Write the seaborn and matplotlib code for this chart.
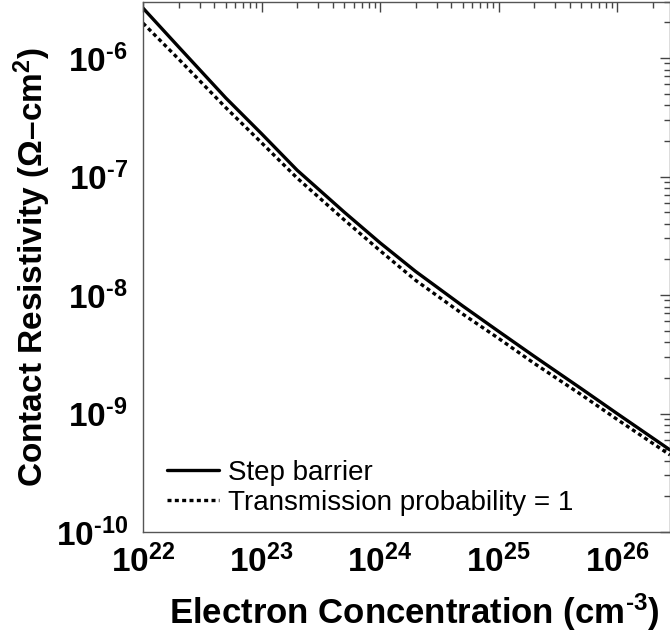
import numpy as np
import pandas as pd
import matplotlib
matplotlib.use("Agg")
import matplotlib.pyplot as plt
from matplotlib.ticker import LogLocator, FuncFormatter, NullFormatter
import seaborn as sns

# Electron concentration (cm^-3)
concentration = [1e22, 2e22, 5e22, 1e23, 2e23, 5e23, 1e24, 2e24, 5e24,
                 1e25, 2e25, 5e25, 1e26, 2.8e26]
# Contact resistivity (Ohm-cm^2)
rho_step = [2.64e-6, 1.24e-6, 4.6e-7, 2.3e-7, 1.13e-7, 5.0e-8, 2.76e-8,
            1.58e-8, 8.07e-9, 4.94e-9, 3.04e-9, 1.62e-9, 1.0e-9, 4.93e-10]
rho_unity = [1.97e-6, 9.8e-7, 3.81e-7, 1.93e-7, 9.7e-8, 4.3e-8, 2.37e-8,
             1.33e-8, 6.9e-9, 4.31e-9, 2.65e-9, 1.44e-9, 8.93e-10, 4.47e-10]
series_names = ["Step barrier", "Transmission probability = 1"]

df = pd.concat([
    pd.DataFrame({"n": concentration, "rho": rho_step, "model": series_names[0]}),
    pd.DataFrame({"n": concentration, "rho": rho_unity, "model": series_names[1]}),
])

sns.set_theme(style="white")
plt.rcParams["font.family"] = ["Liberation Sans", "DejaVu Sans"]
plt.rcParams["mathtext.fontset"] = "custom"
plt.rcParams["mathtext.rm"] = "Liberation Sans"
plt.rcParams["mathtext.bf"] = "Liberation Sans:bold"
plt.rcParams["mathtext.default"] = "bf"
for key in ("text.color", "axes.labelcolor", "xtick.color", "ytick.color",
            "xtick.labelcolor", "ytick.labelcolor"):
    plt.rcParams[key] = "black"

HY = "\u2010"  # short hyphen for exponents

fig = plt.figure(figsize=(6.70, 6.35), dpi=100)
ax = fig.add_axes([143 / 670, 103 / 635, 527 / 670, 530.5 / 635])

sns.lineplot(data=df, x="n", y="rho", hue="model", style="model",
             palette=["black", "black"],
             dashes={series_names[0]: "", series_names[1]: (1.2, 1.0)},
             linewidth=2.4, ax=ax, legend=True)

ax.set_xscale("log")
ax.set_yscale("log")
ax.set_xlim(1e22, 2.8e26)
ax.set_ylim(1e-10, 3e-6)


def exp_label(v, pos):
    e = int(round(np.log10(v)))
    s = str(abs(e)) if e >= 0 else HY + str(abs(e))
    return r"$\mathbf{10^{%s}}$" % s


fmt = FuncFormatter(exp_label)
for axis in (ax.xaxis, ax.yaxis):
    axis.set_major_locator(LogLocator(base=10, numticks=20))
    axis.set_minor_locator(LogLocator(base=10, subs=np.arange(2, 10), numticks=20))
    axis.set_major_formatter(fmt)
    axis.set_minor_formatter(NullFormatter())
    axis.get_offset_text().set_visible(False)

ax.tick_params(which="both", direction="in", top=True, right=True,
               color="#444444", width=1, labelsize=24)
ax.tick_params(which="major", length=7)
ax.tick_params(which="minor", length=4)
ax.tick_params(axis="x", which="major", pad=9)
ax.tick_params(axis="y", which="major", pad=11)
for s in ax.spines.values():
    s.set_color("#555555")
    s.set_linewidth(1)

ax.set_xlabel("Electron Concentration (cm$^{" + HY + "3}$)", fontsize=25,
              fontweight="bold")
ax.xaxis.set_label_coords(0.515, -0.112)
ax.xaxis.label.set_verticalalignment("top")
ax.set_ylabel("Contact Resistivity (\u03A9\u2013cm$^{2}$)", fontsize=24,
              fontweight="bold", labelpad=2)

leg = ax.legend(loc="lower left", bbox_to_anchor=(0.045, 0.03),
                frameon=False, fontsize=20, handlelength=1.9,
                handletextpad=0.3, labelspacing=0.15, borderpad=0,
                borderaxespad=0)

fig.savefig("out.png", dpi=100)
